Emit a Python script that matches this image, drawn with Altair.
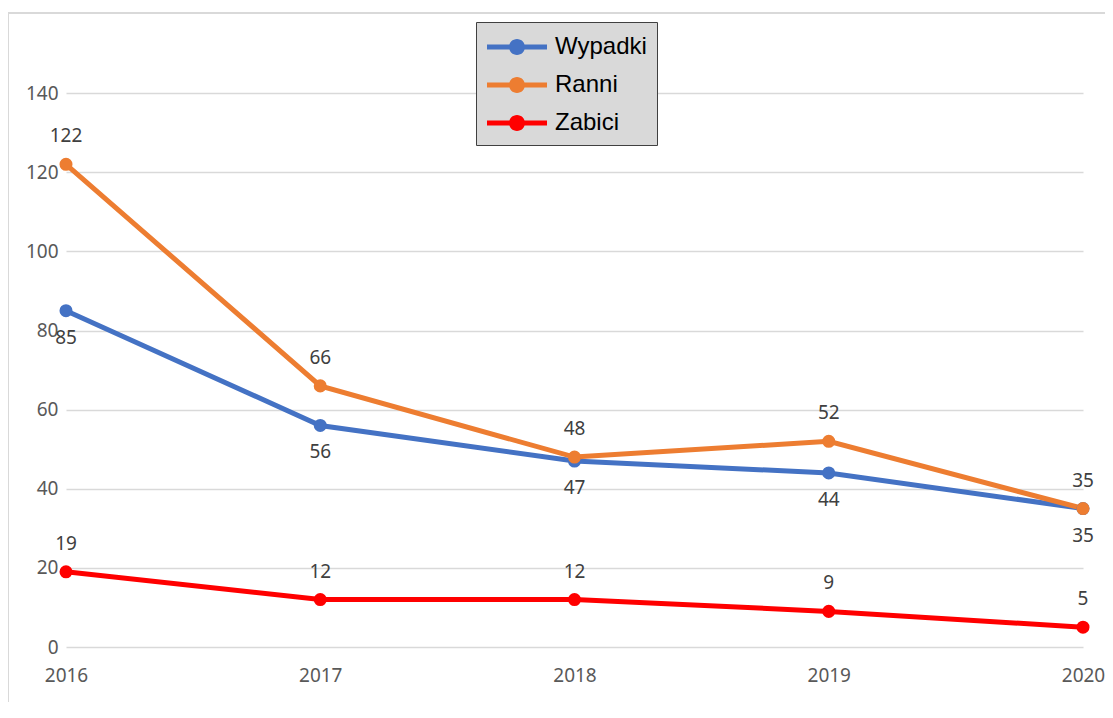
import altair as alt
import pandas as pd

years = [2016, 2017, 2018, 2019, 2020]
series_names = ["Wypadki", "Ranni", "Zabici"]
wypadki = [85, 56, 47, 44, 35]
ranni = [122, 66, 48, 52, 35]
zabici = [19, 12, 12, 9, 5]
colors = ["#4472C4", "#ED7D31", "#FF0000"]
y_ticks = [0, 20, 40, 60, 80, 100, 120, 140]

rows = []
for name, vals in zip(series_names, [wypadki, ranni, zabici]):
    for yr, v in zip(years, vals):
        rows.append({"Rok": yr, "Seria": name, "Wartość": v})
df = pd.DataFrame(rows)

W, H = 1017, 633

legend_path = ("M-2,-0.167H2V0.167H-2Z "
               "M0.533,0A0.533,0.533,0,1,1,-0.533,0A0.533,0.533,0,1,1,0.533,0Z")


def make_legend():
    return alt.Legend(
        title=None, orient="none", legendX=410, legendY=8,
        fillColor="#d9d9d9", strokeColor="#404040", padding=10,
        symbolType=legend_path, symbolSize=900, symbolStrokeWidth=0,
        symbolOffset=16, labelOffset=23, rowPadding=11,
        labelFont="Liberation Sans", labelFontSize=24, labelColor="#000000",
    )


stroke_enc = alt.Stroke("Seria:N", scale=alt.Scale(domain=series_names, range=colors),
                        sort=series_names, legend=make_legend())
fill_enc = alt.Fill("Seria:N", scale=alt.Scale(domain=series_names, range=colors),
                    sort=series_names, legend=make_legend())

x = alt.X("Rok:Q", scale=alt.Scale(domain=[2016, 2020], nice=False, zero=False),
          axis=alt.Axis(values=years, format="d", title=None, grid=False,
                        domain=False, ticks=False, labelFont="Noto Sans",
                        labelFontSize=19, labelColor="#595959", labelPadding=19,
                        labelBaseline="top", labelFlush=False))
y = alt.Y("Wartość:Q", scale=alt.Scale(domain=[0, 160], nice=False),
          axis=alt.Axis(values=y_ticks, title=None, domain=False, ticks=False,
                        gridColor="#d9d9d9", gridWidth=1.5, labelFont="Noto Sans",
                        labelFontSize=19, labelColor="#595959", labelPadding=8,
                        labelFlush=False))

base = alt.Chart(df)

lines = base.mark_line(strokeWidth=5).encode(x=x, y=y, stroke=stroke_enc)
points = base.mark_point(filled=True, size=170, opacity=1, strokeWidth=0).encode(
    x=x, y=y, fill=fill_enc)

text_below = base.transform_filter(alt.datum.Seria == "Wypadki").mark_text(
    dy=27, font="Noto Sans", fontSize=19, color="#404040"
).encode(x=x, y=y, text="Wartość:Q")
text_above = base.transform_filter(alt.datum.Seria != "Wypadki").mark_text(
    dy=-28, font="Noto Sans", fontSize=19, color="#404040"
).encode(x=x, y=y, text="Wartość:Q")

frame = alt.Chart(alt.Data(values=[{}])).mark_rect(
    fill="transparent", stroke="#d9d9d9", strokeWidth=2
).encode(x=alt.value(-58), x2=alt.value(1300), y=alt.value(-1), y2=alt.value(900))

chart = alt.layer(frame, lines, points, text_below, text_above).properties(
    width=W, height=H,
    background="white",
    autosize=alt.AutoSizeParams(type="none"),
    padding={"left": 58, "top": 6, "right": 22, "bottom": 55},
).configure_view(stroke=None)

chart.save("out.html", embed_options={"renderer": "svg", "actions": False})
